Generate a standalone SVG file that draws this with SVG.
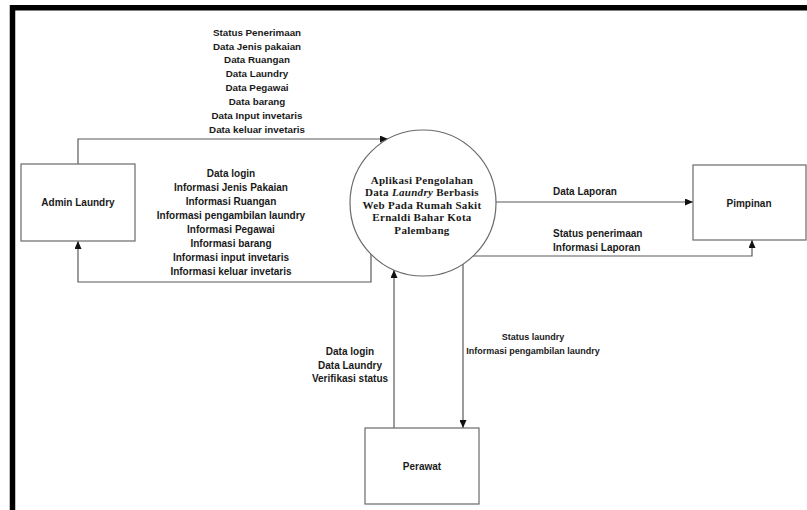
<svg xmlns="http://www.w3.org/2000/svg" width="807" height="510" viewBox="0 0 807 510">
<defs>
<marker id="arr" markerWidth="8" markerHeight="7" refX="8" refY="3.5" orient="auto" markerUnits="userSpaceOnUse">
<path d="M0,0 L8,3.5 L0,7 z" fill="#111"/>
</marker>
<style>
.box{fill:#fff;stroke:#6a6a6a;stroke-width:1.2}
.proc{fill:#fff;stroke:#6a6a6a;stroke-width:1.2}
.lbl{font-family:"Liberation Sans",Arial,sans-serif;font-weight:bold;font-size:10px;fill:#1a1a1a}
.sm{font-size:9.8px}
.xs{font-size:9px}
.ptxt{font-family:"Liberation Serif","Times New Roman",serif;font-weight:bold;font-size:11px;letter-spacing:0.3px;fill:#1a1a1a}
.con{fill:none;stroke:#5a5a5a;stroke-width:1.2;marker-end:url(#arr)}
</style>
</defs>
<rect width="807" height="510" fill="#fff"/>
<path d="M12.5,510 V7.8 H807" fill="none" stroke="#000" stroke-width="5.5"/>

<g id="connectors">
<path class="con" d="M78,164 V139 H388"/>
<path class="con" d="M371,254 V282 H78 V241"/>
<path class="con" d="M496,202 H693"/>
<path class="con" d="M473,256 H752 V240"/>
<path class="con" d="M394,428 V270"/>
<path class="con" d="M463,264 V428"/>
</g>

<g id="labels" class="lbl" text-anchor="middle">
<g class="sm">
<text x="257" y="35.5">Status Penerimaan</text>
<text x="257" y="49.5">Data Jenis pakaian</text>
<text x="257" y="63">Data Ruangan</text>
<text x="257" y="77">Data Laundry</text>
<text x="257" y="91">Data Pegawai</text>
<text x="257" y="104.5">Data barang</text>
<text x="257" y="118.5">Data Input invetaris</text>
<text x="257" y="132.5">Data keluar invetaris</text>
</g>
<text x="231" y="176.5">Data login</text>
<text x="231" y="190.5">Informasi Jenis Pakaian</text>
<text x="231" y="204.5">Informasi Ruangan</text>
<text x="231" y="218.5">Informasi pengambilan laundry</text>
<text x="231" y="232.5">Informasi Pegawai</text>
<text x="231" y="246.5">Informasi barang</text>
<text x="231" y="260.5">Informasi input invetaris</text>
<text x="231" y="274.5">Informasi keluar invetaris</text>
<text x="553" y="194.5" text-anchor="start">Data Laporan</text>
<text x="553" y="236.5" text-anchor="start">Status penerimaan</text>
<text x="553" y="250.5" text-anchor="start">Informasi Laporan</text>
<text x="350" y="354.5">Data login</text>
<text x="350" y="368.5">Data Laundry</text>
<text x="350" y="382">Verifikasi status</text>
<g class="xs">
<text x="533" y="340">Status laundry</text>
<text x="533" y="353.5">Informasi pengambilan laundry</text>
</g>
</g>

<g id="admin">
<rect class="box" x="21" y="164" width="114" height="77"/>
<text class="lbl" x="78" y="206" text-anchor="middle">Admin Laundry</text>
</g>

<g id="proses">
<circle class="proc" cx="423" cy="203" r="73"/>
<g class="ptxt" text-anchor="middle">
<text x="422" y="183.5">Aplikasi Pengolahan</text>
<text x="422" y="196">Data <tspan font-style="italic">Laundry</tspan> Berbasis</text>
<text x="422" y="208.5">Web Pada Rumah Sakit</text>
<text x="422" y="221">Ernaldi Bahar Kota</text>
<text x="422" y="233.5">Palembang</text>
</g>
</g>

<g id="pimpinan">
<rect class="box" x="693" y="165" width="113" height="75"/>
<text class="lbl" x="749" y="206.5" text-anchor="middle">Pimpinan</text>
</g>

<g id="perawat">
<rect class="box" x="365" y="428" width="114" height="76"/>
<text class="lbl" x="422" y="470" text-anchor="middle">Perawat</text>
</g>
</svg>
